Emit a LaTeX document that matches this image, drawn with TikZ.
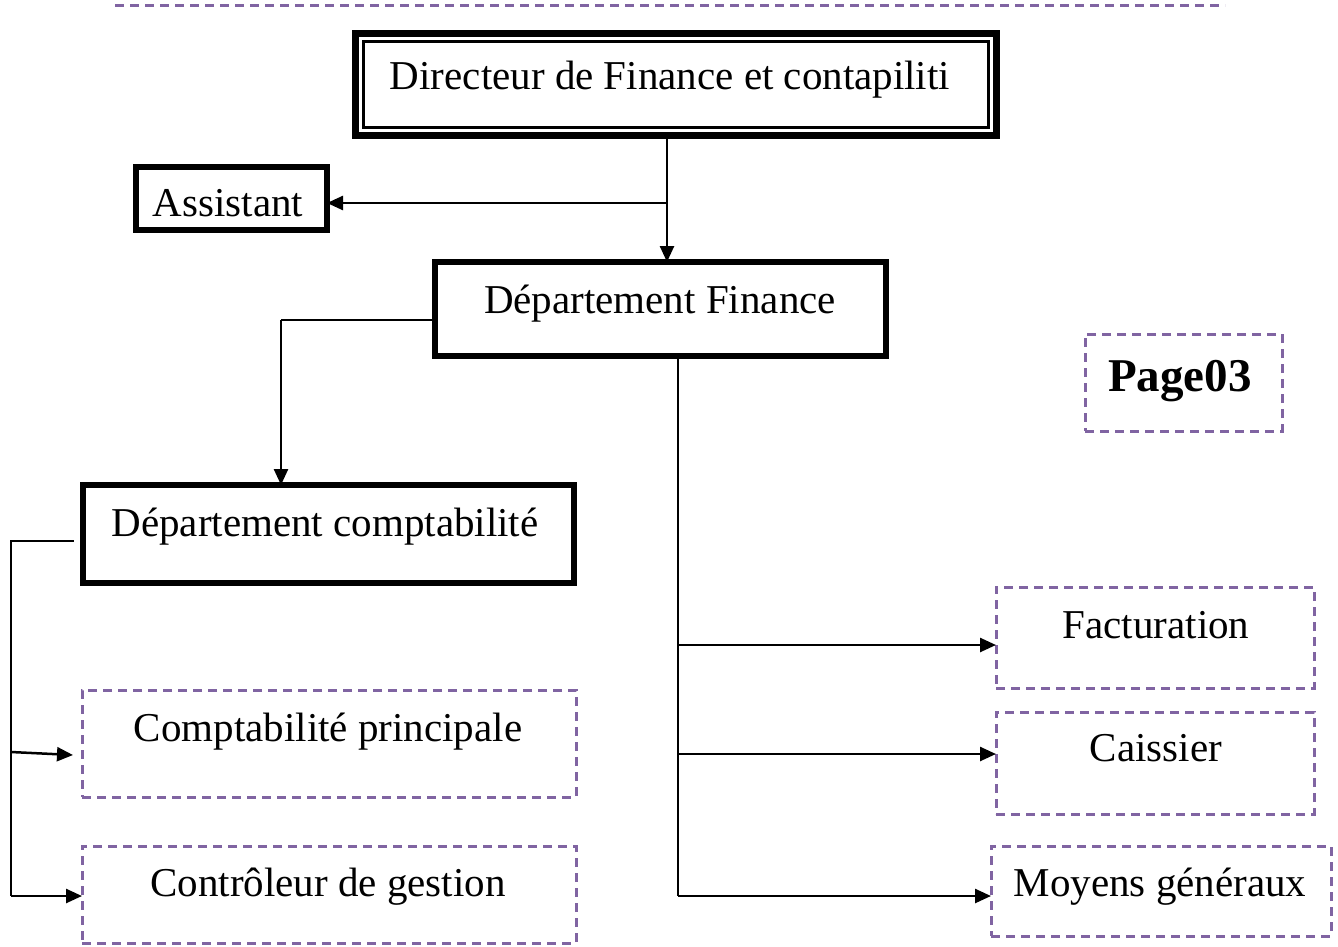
\documentclass[tikz,border=0pt]{standalone}
\usepackage{fontspec}
\setmainfont{Liberation Serif}
\usetikzlibrary{arrows.meta, positioning, calc}
\definecolor{dashpurple}{HTML}{8064A2}

\begin{document}
\begin{tikzpicture}[
  x=1pt, y=-1pt,
  box/.style={draw, line width=6pt, inner sep=0pt, outer sep=0pt},
  dirbox/.style={box, line width=7pt},
  dashbox/.style={draw=dashpurple, dash pattern=on 9pt off 6pt, line width=3pt,
                  inner sep=0pt, outer sep=0pt},
  lbl/.style={anchor=base, inner sep=0pt, font=\fontsize{41}{49}\selectfont},
  arr/.style={-{Triangle[length=16pt, width=14pt]}, line width=2.5pt},
  conn/.style={line width=2.5pt}
]
\useasboundingbox (0,0) rectangle (1338,947);

% top rule
\coordinate (rule-l) at (115,6);
\coordinate (rule-r) at (1225,6);
\draw[dashbox] (rule-l) -- (rule-r);

% boxes
\node[dirbox, minimum width=641, minimum height=102] (dir)  at (676,84.5)   {};
\draw[line width=2.5pt] ($(dir.north west)+(8,8)$) rectangle ($(dir.south east)+(-8,-8)$);
\node[box, minimum width=191, minimum height=63]  (asst) at (231.5,198.5) {};
\node[box, minimum width=451, minimum height=94]  (fin)  at (660.5,309)   {};
\node[box, minimum width=491, minimum height=98]  (comp) at (328.5,534)   {};

\node[dashbox, minimum width=494, minimum height=107] (cp)   at (329,743.5)  {};
\node[dashbox, minimum width=494, minimum height=97]  (ctrl) at (329,894.5)  {};
\node[dashbox, minimum width=318, minimum height=101] (fact) at (1155,637.5) {};
\node[dashbox, minimum width=318, minimum height=102] (cais) at (1155,763)   {};
\node[dashbox, minimum width=340, minimum height=90]  (moy)  at (1161,891)   {};
\node[dashbox, minimum width=197, minimum height=97]  (page) at (1183.5,382.5) {};

% texts
\node[lbl] (dir-t)  at (670,90)   {Directeur de Finance et contapiliti};
\node[lbl] (asst-t) at (228,216)  {Assistant};
\node[lbl] (fin-t)  at (660,313)  {Département Finance};
\node[lbl] (comp-t) at (325,536)  {Département comptabilité};
\node[lbl] (cp-t)   at (328,741)  {Comptabilité principale};
\node[lbl] (ctrl-t) at (328,896)  {Contrôleur de gestion};
\node[lbl] (fact-t) at (1156,638) {Facturation};
\node[lbl] (cais-t) at (1156,761) {Caissier};
\node[lbl] (moy-t)  at (1160,896) {Moyens généraux};
\node[lbl, font=\fontsize{47}{55}\selectfont\bfseries] (page-t) at (1180,391) {Page03};

% connectors
\coordinate (j1) at (667,203);
\draw[arr] (j1 |- dir.south) -- (j1 |- fin.north);
\draw[arr] (j1) -- (j1 -| asst.east);

\coordinate (c1) at (281,320);
\draw[conn] (c1 -| fin.west) -- (c1);
\draw[arr] (c1) -- (c1 |- comp.north);

\coordinate (b1) at (11,541);
\coordinate (b2) at (11,752);
\coordinate (b3) at (11,896);
\draw[conn] ($(comp.west)+(-9.5,7)$) -- (b1) -- (b3);
\draw[arr] (b2) -- ($(cp.west)+(-9,11.5)$);
\draw[arr] (b3) -- (b3 -| ctrl.west);

\coordinate (trunk) at (678,896);
\draw[conn] (trunk |- fin.south) -- (trunk);
\foreach \y/\n in {645/fact, 754/cais, 896/moy}
  \draw[arr] (678,\y) -- (\n.west |- 678,\y);
\end{tikzpicture}
\end{document}
